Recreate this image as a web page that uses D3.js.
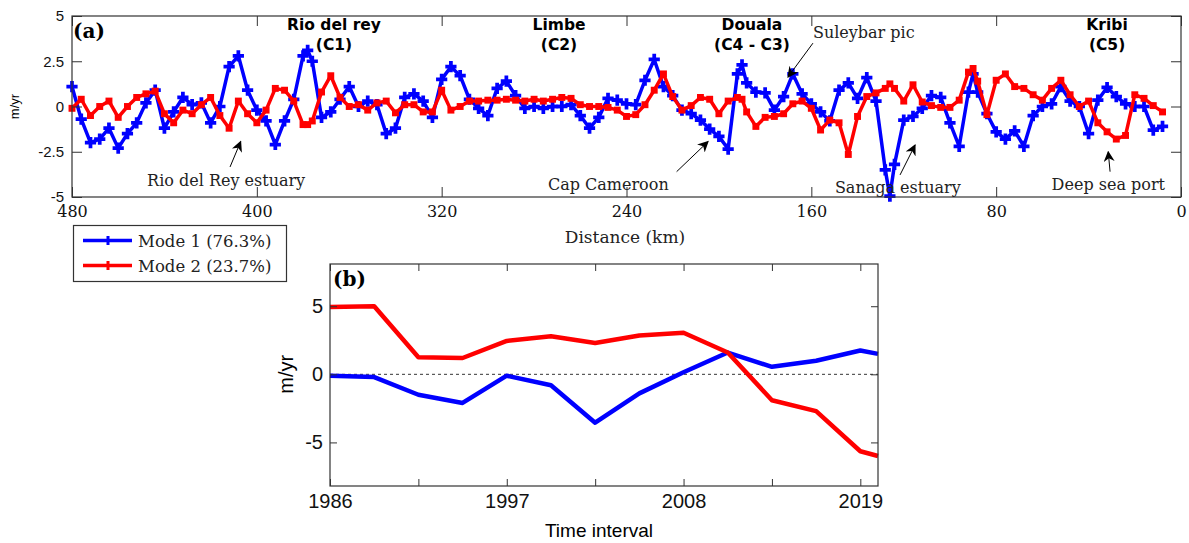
<!DOCTYPE html>
<html>
<head>
<meta charset="utf-8">
<script src="https://cdn.jsdelivr.net/npm/d3@7"></script>
<style>
  body { margin: 0; background: #fff; }
  svg { display: block; }
</style>
</head>
<body>
<svg id="chart"></svg>
<script>
// ---- data ----
var distKm = [480,476,472,468,464,460,456,452,448,444,440,436,432,428,424,420,416,412,408,404,400,396,392,388,384,380,378,376,372,368,364,360,356,352,348,344,340,336,332,328,324,320,316,312,308,304,300,296,292,288,284,280,276,272,268,264,260,256,252,248,244,240,236,232,228,224,220,216,212,208,204,200,196,192,190,188,184,180,176,172,168,164,160,156,152,148,144,140,136,132,128,126,124,120,116,112,108,104,100,96,92,90,88,84,80,76,72,68,64,60,56,52,48,44,40,36,32,28,24,20,16,12,8];
var mode1Spatial = [1.1,-0.7,-2.0,-1.8,-1.2,-2.3,-1.5,-0.9,0.2,0.9,-1.2,-0.3,0.5,0.1,0.2,-0.9,0.0,2.2,2.8,0.9,-0.2,-0.8,-2.1,-0.8,0.4,2.8,3.1,2.5,-0.6,-0.3,0.4,1.1,0.0,0.3,0.1,-1.5,-1.2,0.5,0.7,0.3,-0.6,1.5,2.2,1.7,0.4,-0.1,-0.5,1.0,1.4,0.6,-0.1,0.0,-0.1,0.0,0.0,0.1,-0.5,-1.2,-0.6,0.45,0.35,0.15,0.1,1.45,2.6,1.1,0.6,-0.2,-0.4,-0.75,-1.25,-1.65,-2.35,1.8,2.3,1.3,0.8,0.75,-0.2,0.55,1.8,0.7,0.15,-0.3,-0.8,0.9,1.3,0.45,1.6,0.3,-3.5,-4.95,-3.2,-0.75,-0.55,-0.1,0.6,0.5,-0.9,-2.2,0.8,1.8,0.8,-0.4,-1.4,-1.8,-1.35,-2.2,-0.5,0.0,0.15,1.1,0.3,0.0,-1.5,0.35,1.05,0.55,0.15,0.0,0.0,-1.3,-1.1];
var mode2Spatial = [-0.1,0.4,-0.5,0.0,0.3,-0.6,0.0,0.5,0.7,0.85,-0.4,-0.9,-0.2,-0.4,0.1,0.5,-0.5,-1.2,0.3,-0.4,-0.9,-0.2,1.0,0.9,0.3,-1.0,-1.0,-0.8,0.8,1.7,0.5,0.0,0.1,-0.2,0.2,0.3,-0.35,0.1,0.1,-0.3,-0.3,0.9,-0.2,0.0,0.3,0.3,0.35,0.35,0.4,0.35,0.3,0.4,0.3,0.4,0.5,0.45,0.1,0.0,0.0,-0.05,-0.2,-0.55,-0.45,0.1,0.9,1.8,0.55,-0.2,0.05,0.5,0.4,-0.4,0.3,0.5,0.4,-0.3,-1.1,-0.6,-0.55,-0.4,0.15,0.3,-0.1,-1.3,-0.75,-0.9,-2.65,-0.55,0.55,0.75,1.0,1.25,1.0,0.3,1.2,0.25,0.05,-0.05,-0.05,0.35,1.9,2.1,1.4,-0.45,1.45,1.8,1.1,1.0,0.65,0.35,1.0,1.45,0.65,0.0,0.3,-0.9,-1.4,-1.8,-1.6,0.65,0.45,0.05,-0.3];

var years = [1986,1988.75,1991.5,1994.25,1997,1999.75,2002.5,2005.25,2008,2010.75,2013.5,2016.25,2019,2020.1];
var mode1Temporal = [-0.1,-0.2,-1.5,-2.1,-0.1,-0.8,-3.55,-1.4,0.15,1.6,0.55,1.0,1.75,1.5];
var mode2Temporal = [4.95,5.0,1.25,1.2,2.45,2.8,2.3,2.85,3.05,1.6,-1.9,-2.7,-5.65,-6.0];

var distTicks = [480,400,320,240,160,80,0];
var valTicksA = [-5,-2.5,0,2.5,5];
var yearTicks = [1986,1991.5,1997,2002.5,2008,2013.5,2019];
var yearLabels = [1986,1997,2008,2019];
var valTicksB = [-5,0,5];

var seriesNames = ["Mode 1 (76.3%)","Mode 2 (23.7%)"];
var seriesColors = ["#0000ff","#ff0000"];

var towns = [
  {name:"Rio del rey", code:"(C1)", d:366.6},
  {name:"Limbe", code:"(C2)", d:269.2},
  {name:"Douala", code:"(C4 - C3)", d:185.7},
  {name:"Kribi", code:"(C5)", d:32}
];
// text start (d, v) and arrow from (d1,v1) to tip (d2,v2)
var notes = [
  {text:"Rio del Rey estuary", d:447.5, v:-4.39, d1:411.6, v1:-3.34, d2:407.0, v2:-1.94},
  {text:"Cap Cameroon", d:274, v:-4.61, d1:218.3, v1:-3.6, d2:204.7, v2:-1.94},
  {text:"Sanaga estuary", d:149.8, v:-4.78, d1:121.6, v1:-3.78, d2:115.1, v2:-2.13},
  {text:"Deep sea port", d:56, v:-4.61, d1:30.7, v1:-3.6, d2:31.5, v2:-2.5},
  {text:"Suleybar pic", d:159.3, v:3.78, d1:159.3, v1:3.5, d2:170.1, v2:1.63}
];

var W = 1189, H = 543;
var serif = "'DejaVu Serif', serif";
var sans = "'Liberation Sans', Arial, sans-serif";

var svg = d3.select("#chart").attr("width", W).attr("height", H);

svg.append("defs").append("marker")
    .attr("id", "head")
    .attr("viewBox", "0 0 10 10")
    .attr("refX", 9).attr("refY", 5)
    .attr("markerWidth", 11).attr("markerHeight", 11)
    .attr("markerUnits", "userSpaceOnUse")
    .attr("orient", "auto")
  .append("path")
    .attr("d", "M0,0 L10,5 L0,10 L3,5 Z")
    .attr("fill", "#000");

// ---------- panel (a) ----------
var aL = 72, aR = 1181, aT = 16, aB = 197;
var xA = d3.scaleLinear().domain([480, 0]).range([aL, aR]);
var yA = d3.scaleLinear().domain([-5, 5]).range([aB, aT]);

var gA = svg.append("g");

function boxAxes(g, x, y, xt, yt, xFmt, yFmt, tickLen, xFont, yFont, xPad, yPad) {
  var r = x.range(), b = y.range();
  g.append("g").attr("transform", "translate(0," + b[0] + ")")
    .call(d3.axisBottom(x).tickValues(xt).tickSize(-tickLen).tickPadding(xPad).tickFormat(xFmt))
    .call(function(s){ s.select(".domain").remove(); s.selectAll("text").attr("font-family", xFont.f).attr("font-size", xFont.s).attr("fill", "#111"); s.selectAll("line").attr("stroke", "#333"); });
  g.append("g").attr("transform", "translate(0," + b[1] + ")")
    .call(d3.axisTop(x).tickValues(xt).tickSize(-tickLen).tickFormat(""))
    .call(function(s){ s.select(".domain").remove(); s.selectAll("line").attr("stroke", "#333"); });
  g.append("g").attr("transform", "translate(" + r[0] + ",0)")
    .call(d3.axisLeft(y).tickValues(yt).tickSize(-tickLen).tickPadding(yPad).tickFormat(yFmt))
    .call(function(s){ s.select(".domain").remove(); s.selectAll("text").attr("font-family", yFont.f).attr("font-size", yFont.s).attr("fill", "#111"); s.selectAll("line").attr("stroke", "#333"); });
  g.append("g").attr("transform", "translate(" + r[1] + ",0)")
    .call(d3.axisRight(y).tickValues(yt).tickSize(-tickLen).tickFormat(""))
    .call(function(s){ s.select(".domain").remove(); s.selectAll("line").attr("stroke", "#333"); });
  g.append("rect")
    .attr("x", r[0]).attr("y", b[1])
    .attr("width", r[1] - r[0]).attr("height", b[0] - b[1])
    .attr("fill", "none").attr("stroke", "#333").attr("stroke-width", 1.2);
}

var spatial = [mode1Spatial, mode2Spatial];
var lineA = d3.line().x(function(d){ return xA(d[0]); }).y(function(d){ return yA(d[1]); });
var symbols = [d3.symbol().type(d3.symbolCross).size(70), d3.symbol().type(d3.symbolSquare).size(48)];

spatial.forEach(function(vals, k){
  var pts = distKm.map(function(d, i){ return [d, vals[i]]; });
  gA.append("path").datum(pts)
    .attr("d", lineA)
    .attr("fill", "none")
    .attr("stroke", seriesColors[k])
    .attr("stroke-width", 3.5)
    .attr("stroke-linejoin", "round");
  gA.selectAll(".m" + k).data(pts).enter().append("path")
    .attr("class", "m" + k)
    .attr("d", symbols[k])
    .attr("transform", function(d){ return "translate(" + xA(d[0]) + "," + yA(d[1]) + ")"; })
    .attr("fill", seriesColors[k]);
});

boxAxes(gA, xA, yA, distTicks, valTicksA, d3.format("d"), function(d){ return d; },
  10, {f: serif, s: "16px"}, {f: sans, s: "15px"}, 9, 8);

gA.append("text")
  .attr("transform", "translate(19," + yA(0) + ") rotate(-90)")
  .attr("text-anchor", "middle")
  .attr("font-family", sans).attr("font-size", "13px")
  .text("m/yr");

gA.append("text")
  .attr("x", 625).attr("y", 243)
  .attr("text-anchor", "middle")
  .attr("font-family", serif).attr("font-size", "17px").attr("fill", "#222")
  .text("Distance (km)");

gA.append("text")
  .attr("x", aL + 1).attr("y", aT + 22)
  .attr("font-family", serif).attr("font-weight", "bold").attr("font-size", "20px")
  .text("(a)");

towns.forEach(function(t){
  gA.append("text")
    .attr("x", xA(t.d)).attr("y", 30)
    .attr("text-anchor", "middle")
    .attr("font-family", "'DejaVu Sans', sans-serif").attr("font-weight", "bold").attr("font-size", "15.5px")
    .text(t.name);
  gA.append("text")
    .attr("x", xA(t.d)).attr("y", 50)
    .attr("text-anchor", "middle")
    .attr("font-family", "'DejaVu Sans', sans-serif").attr("font-weight", "bold").attr("font-size", "15.5px")
    .text(t.code);
});

notes.forEach(function(n){
  gA.append("line")
    .attr("x1", xA(n.d1)).attr("y1", yA(n.v1))
    .attr("x2", xA(n.d2)).attr("y2", yA(n.v2))
    .attr("stroke", "#000").attr("stroke-width", 1)
    .attr("marker-end", "url(#head)");
  gA.append("text")
    .attr("x", xA(n.d)).attr("y", yA(n.v))
    .attr("font-family", serif).attr("font-size", "16px").attr("fill", "#222")
    .text(n.text);
});

// legend
var lg = svg.append("g");
lg.append("rect").attr("x", 73.5).attr("y", 225.5).attr("width", 213).attr("height", 56)
  .attr("fill", "#fff").attr("stroke", "#333").attr("stroke-width", 1.2);
seriesNames.forEach(function(name, k){
  var y = 240.5 + k * 25;
  lg.append("line").attr("x1", 83).attr("x2", 132).attr("y1", y).attr("y2", y)
    .attr("stroke", seriesColors[k]).attr("stroke-width", 3.5);
  lg.append("path").attr("d", d3.symbol().type(d3.symbolCross).size(45))
    .attr("transform", "translate(108," + y + ")").attr("fill", seriesColors[k]);
  lg.append("text").attr("x", 138).attr("y", y + 6)
    .attr("font-family", serif).attr("font-size", "16.5px").attr("fill", "#222")
    .text(name);
});

// ---------- panel (b) ----------
var bL = 330, bR = 878, bT = 264, bB = 486;
var xB = d3.scaleLinear().domain([1986, 2020.1]).range([bL, bR]);
var yB = d3.scaleLinear().domain([-8.2, 8.1]).range([bB, bT]);
var gB = svg.append("g");

gB.append("line")
  .attr("x1", bL).attr("x2", bR).attr("y1", yB(0)).attr("y2", yB(0))
  .attr("stroke", "#000").attr("stroke-width", 0.8).attr("stroke-dasharray", "3,3");

var lineB = d3.line().x(function(d){ return xB(d[0]); }).y(function(d){ return yB(d[1]); });
[mode1Temporal, mode2Temporal].forEach(function(vals, k){
  gB.append("path").datum(years.map(function(t, i){ return [t, vals[i]]; }))
    .attr("d", lineB)
    .attr("fill", "none")
    .attr("stroke", seriesColors[k])
    .attr("stroke-width", 4.5)
    .attr("stroke-linejoin", "round");
});

boxAxes(gB, xB, yB, yearTicks, valTicksB,
  function(d){ return yearLabels.indexOf(d) >= 0 ? d : ""; }, function(d){ return d; },
  7, {f: sans, s: "20px"}, {f: sans, s: "20px"}, 8, 7);

gB.append("text")
  .attr("transform", "translate(293," + yB(0) + ") rotate(-90)")
  .attr("text-anchor", "middle")
  .attr("font-family", sans).attr("font-size", "20px")
  .text("m/yr");

gB.append("text")
  .attr("x", 599).attr("y", 537)
  .attr("text-anchor", "middle")
  .attr("font-family", sans).attr("font-size", "19px")
  .text("Time interval");

gB.append("text")
  .attr("x", bL + 3).attr("y", bT + 22)
  .attr("font-family", serif).attr("font-weight", "bold").attr("font-size", "20px")
  .text("(b)");
</script>
</body>
</html>
